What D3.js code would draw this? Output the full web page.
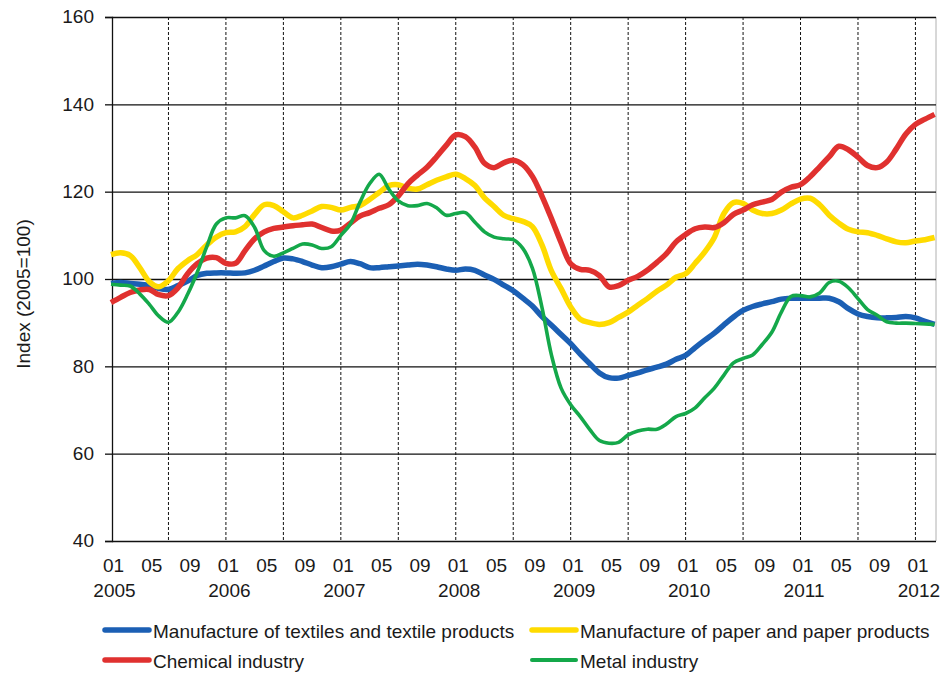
<!DOCTYPE html>
<html>
<head>
<meta charset="utf-8">
<script src="https://cdn.jsdelivr.net/npm/d3@7"></script>
<style>
    body { margin: 0; background: #fff; }
    text { font-family: "Liberation Sans", Arial, sans-serif; fill: #1a1a1a; }
</style>
</head>
<body>
<div id="chart"></div>
<script>
// Monthly index values (2005=100), Jan 2005 .. Mar 2012
const textiles = [
    99.0, 99.2, 99.0, 98.8, 98.5, 97.8, 97.6, 98.5, 99.5, 100.8, 101.3, 101.4,
    101.4, 101.3, 101.4, 102.0, 103.0, 104.0, 104.8, 104.6, 104.0, 103.2, 102.6, 102.8,
    103.4, 104.0, 103.5, 102.6, 102.6, 102.8, 103.0, 103.2, 103.4, 103.2, 102.8, 102.3,
    102.0, 102.3, 102.0, 100.9, 99.9, 98.6, 97.3, 95.6, 93.8, 91.4, 89.4, 87.3,
    85.2, 82.8, 80.6, 78.5, 77.4, 77.3, 77.9, 78.5, 79.2, 79.8, 80.5, 81.6,
    82.5, 84.3, 86.0, 87.6, 89.5, 91.3, 92.8, 93.7, 94.3, 94.8, 95.4, 95.6,
    95.6, 95.6, 95.6, 95.6, 94.8, 93.2, 92.0, 91.4, 91.1, 91.1, 91.2, 91.4,
    91.1, 90.3, 89.6
];
const paper = [
    105.6, 106.0, 105.4, 102.6, 99.4, 98.2, 99.6, 102.4, 104.2, 105.6, 107.8, 109.6,
    110.6, 110.8, 112.0, 114.8, 117.0, 116.8, 115.4, 114.0, 114.6, 115.6, 116.6, 116.4,
    115.8, 116.4, 116.8, 118.2, 119.8, 121.4, 121.6, 120.8, 120.6, 121.6, 122.6, 123.4,
    124.0, 123.0, 121.4, 118.6, 116.6, 114.6, 113.8, 113.2, 112.0, 107.8, 101.8, 97.8,
    93.6, 90.8, 90.0, 89.6, 90.0, 91.2, 92.4, 94.0, 95.5, 97.2, 98.6, 100.4,
    101.2, 103.6, 106.2, 109.5, 115.0, 117.5, 117.3, 115.8, 115.0, 115.0, 115.8, 117.2,
    118.3, 118.5, 117.0, 114.6, 112.8, 111.4, 110.8, 110.6, 110.0, 109.2, 108.5, 108.3,
    108.7, 109.0, 109.5
];
const chemical = [
    94.6, 95.8, 96.9, 97.5, 97.6, 96.4, 96.2, 98.0, 101.2, 103.5, 104.8, 104.9,
    103.6, 103.6, 106.5, 109.2, 110.8, 111.6, 111.9, 112.2, 112.4, 112.6, 111.8, 111.0,
    111.2, 112.8, 114.4, 115.2, 116.2, 117.0, 119.0, 121.8, 123.8, 125.6, 128.0, 130.6,
    133.0, 132.6, 130.2, 126.5, 125.5, 126.6, 127.2, 126.2, 123.5, 119.0, 113.8, 108.3,
    103.5, 102.2, 102.0, 100.8, 98.2, 98.5, 99.7, 100.6, 102.0, 103.8, 105.8, 108.5,
    110.2, 111.5, 111.9, 111.8, 112.9, 114.8, 115.8, 117.0, 117.6, 118.2, 119.9, 121.0,
    121.6, 123.4, 125.7, 128.0, 130.4, 129.6, 127.9, 126.0, 125.5, 126.8, 129.8, 133.2,
    135.4, 136.6, 137.7
];
const metal = [
    98.8, 98.6, 98.4, 96.6, 94.2, 91.5, 90.1, 92.4, 96.5, 101.5, 107.4, 112.6,
    114.0, 114.0, 114.5, 111.8, 106.5, 105.2, 106.0, 107.0, 108.0, 107.8, 107.0, 107.4,
    110.0, 112.6, 117.6, 121.8, 124.0, 120.6, 117.9, 116.8, 116.8, 117.3, 116.3, 114.6,
    115.0, 115.2, 113.0, 110.8, 109.6, 109.2, 109.0, 107.0, 102.5, 93.5, 82.5, 75.0,
    71.2, 68.5, 65.5, 63.0, 62.4, 62.6, 64.3, 65.2, 65.6, 65.6, 66.8, 68.5,
    69.2, 70.5, 72.8, 75.0, 78.0, 80.8, 81.8, 82.6, 85.0, 87.8, 92.4, 96.0,
    96.2, 95.9, 96.8, 99.2, 99.5, 98.0, 95.5, 93.0, 91.7, 90.2, 89.9, 89.9,
    89.8, 89.7, 89.6
];

const yTicks = [40, 60, 80, 100, 120, 140, 160];
const monthLabels = ["01", "05", "09"];
const yearLabels = ["2005", "2006", "2007", "2008", "2009", "2010", "2011", "2012"];
const seriesNames = [
    "Manufacture of textiles and textile products",
    "Manufacture of paper and paper products",
    "Chemical industry",
    "Metal industry"
];
const seriesColors = ["#1b5fb4", "#ffdb00", "#e0312f", "#14a84a"];

/**
 * Constructor for the index chart
 */
function IndexChart(){
    let self = this;
    self.init();
};

/**
 * Sets up svg, scales and axes
 */
IndexChart.prototype.init = function(){
    let self = this;
    self.width = 946;
    self.height = 674;
    self.plot = {left: 112, right: 936, top: 17, bottom: 541};

    self.svg = d3.select("#chart").append("svg")
        .attr("width", self.width)
        .attr("height", self.height);

    self.x = d3.scaleLinear()
        .domain([0, textiles.length - 1])
        .range([111, 934.6]);

    self.y = d3.scaleLinear()
        .domain([40, 160])
        .range([self.plot.bottom, self.plot.top]);

    self.drawGrid();
    self.update();
    self.drawLegend();
};

IndexChart.prototype.drawGrid = function(){
    let self = this;
    let p = self.plot;

    // dashed half-year lines
    let halfYears = d3.range(6, textiles.length - 1, 6);
    self.svg.append("g").selectAll("line").data(halfYears)
        .enter().append("line")
        .attr("x1", d => self.x(d)).attr("x2", d => self.x(d))
        .attr("y1", p.top).attr("y2", p.bottom)
        .attr("stroke", "#111")
        .attr("stroke-width", 1)
        .attr("stroke-dasharray", "3,2");

    // right frame
    self.svg.append("line")
        .attr("x1", p.right).attr("x2", p.right)
        .attr("y1", p.top).attr("y2", p.bottom)
        .attr("stroke", "#b0b0b0");

    // y axis with horizontal grid
    let yAxis = d3.axisLeft(self.y)
        .tickValues(yTicks)
        .tickSize(7)
        .tickPadding(11);
    let gy = self.svg.append("g")
        .attr("transform", "translate(" + p.left + ",0)")
        .call(yAxis);
    gy.select(".domain").attr("stroke", "#111").attr("stroke-width", 1.3);
    gy.selectAll(".tick line").attr("stroke", "#111").attr("stroke-width", 1.3);
    gy.selectAll(".tick").append("line")
        .attr("x1", 0).attr("x2", p.right - p.left)
        .attr("stroke", "#111").attr("stroke-width", 1.3);
    gy.selectAll(".tick text")
        .style("font-size", "19px")
        .attr("font-family", null)
        .attr("fill", "#1a1a1a")
        .attr("dy", "0.3em");

    // month labels
    let monthTicks = d3.range(0, textiles.length, 4);
    let xAxis = d3.axisBottom(self.x)
        .tickValues(monthTicks)
        .tickSize(0)
        .tickPadding(18)
        .tickFormat(d => monthLabels[(d / 4) % 3]);
    let gx = self.svg.append("g")
        .attr("transform", "translate(2," + p.bottom + ")")
        .call(xAxis);
    gx.select(".domain").remove();
    gx.selectAll(".tick text").style("font-size", "19px").attr("font-family", null).attr("fill", "#1a1a1a");

    // year labels
    let yearAxis = d3.axisBottom(self.x)
        .tickValues(d3.range(0, textiles.length, 12))
        .tickSize(0)
        .tickPadding(43)
        .tickFormat((d, i) => yearLabels[i]);
    let gyear = self.svg.append("g")
        .attr("transform", "translate(3," + p.bottom + ")")
        .call(yearAxis);
    gyear.select(".domain").remove();
    gyear.selectAll(".tick text").style("font-size", "19px").attr("font-family", null).attr("fill", "#1a1a1a");

    // y title
    self.svg.append("text")
        .attr("transform", "translate(30,294) rotate(-90)")
        .style("text-anchor", "middle")
        .style("font-size", "19px")
        .text("Index (2005=100)");
};

/**
 * Draws the four series
 */
IndexChart.prototype.update = function(){
    let self = this;
    let allSeries = [textiles, paper, chemical, metal];
    let widths = [5.5, 5.5, 5.5, 3.6];

    let line = d3.line()
        .x((d, i) => self.x(i))
        .y(d => self.y(d))
        .curve(d3.curveCatmullRom.alpha(0.5));

    self.svg.append("g").selectAll("path").data(allSeries)
        .enter().append("path")
        .attr("d", d => line(d))
        .attr("fill", "none")
        .attr("stroke", (d, i) => seriesColors[i])
        .attr("stroke-width", (d, i) => widths[i])
        .attr("stroke-linejoin", "round");
};

IndexChart.prototype.drawLegend = function(){
    let self = this;
    let colX = [105, 532];
    let rowY = [630, 660];
    let widths = [5.5, 5.5, 5.5, 4];

    let items = self.svg.append("g").selectAll("g").data(seriesNames)
        .enter().append("g")
        .attr("transform", (d, i) => "translate(" + colX[i % 2] + "," + rowY[Math.floor(i / 2)] + ")");

    items.append("line")
        .attr("x1", 0).attr("x2", 44)
        .attr("stroke", (d, i) => seriesColors[i])
        .attr("stroke-width", (d, i) => widths[i])
        .attr("stroke-linecap", "round");

    items.append("text")
        .attr("x", 48)
        .attr("y", 7.5)
        .style("font-size", "19px")
        .text(d => d);
};

new IndexChart();
</script>
</body>
</html>
